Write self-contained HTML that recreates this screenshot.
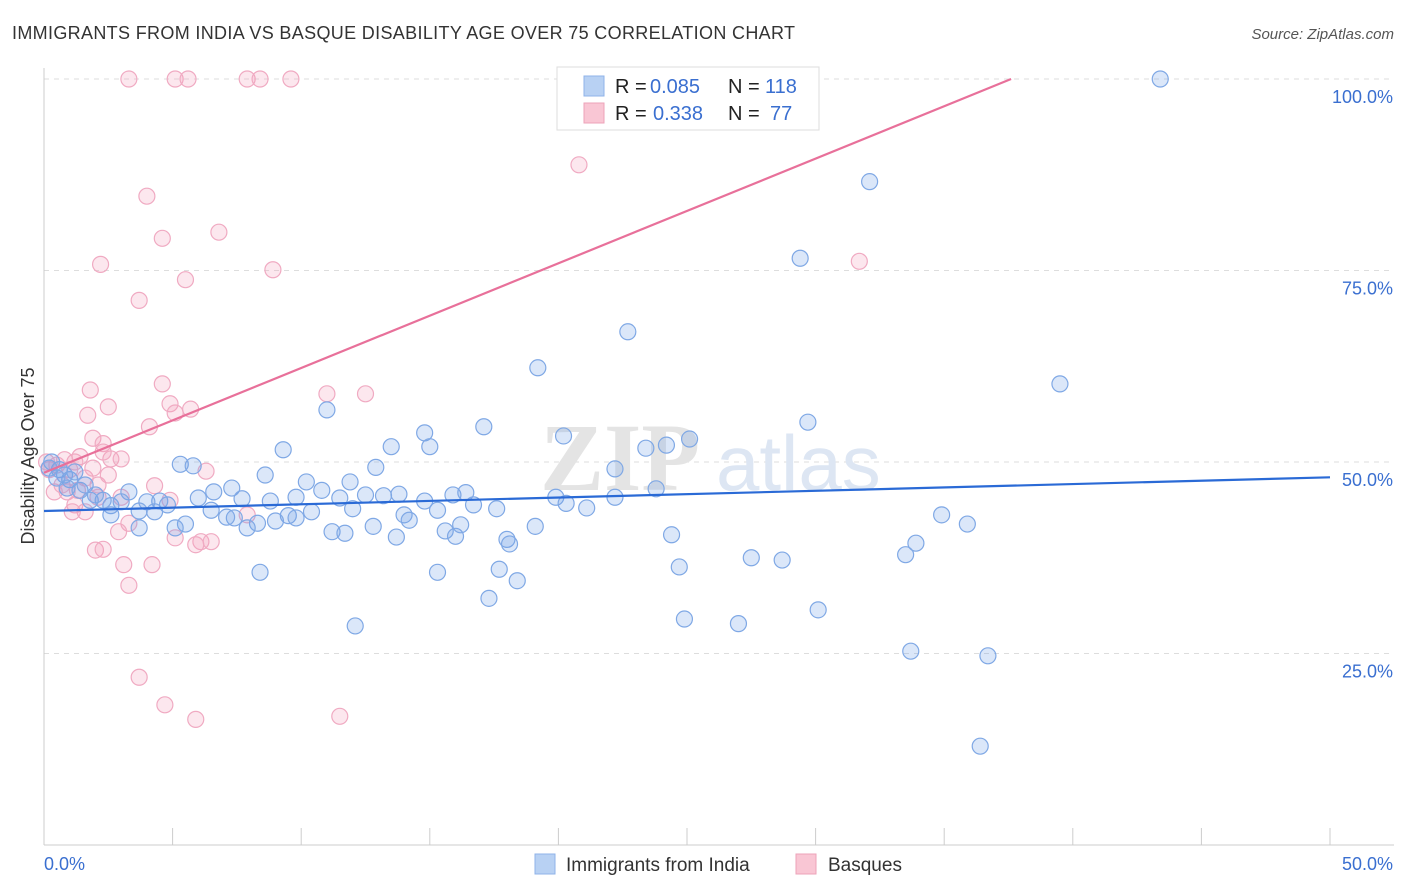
<!DOCTYPE html>
<html><head><meta charset="utf-8">
<style>
body{margin:0;background:#fff;font-family:"Liberation Sans",sans-serif;}
svg{display:block}
</style></head>
<body>
<svg id="chart" width="1406" height="892" xmlns="http://www.w3.org/2000/svg">
<text x="12" y="39" font-size="18" fill="#333" textLength="783">IMMIGRANTS FROM INDIA VS BASQUE DISABILITY AGE OVER 75 CORRELATION CHART</text>
<text x="1394" y="39" font-size="15" fill="#555" font-style="italic" text-anchor="end">Source: ZipAtlas.com</text>
<g id="grid"></g>
<text x="700" y="490" font-size="96" fill="#e4e4e4" font-family="Liberation Serif,serif" font-weight="bold" text-anchor="end">ZIP</text>
<text x="716" y="490" font-size="78" fill="#dde6f3">atlas</text>
<g id="axes"></g>
<g id="pts"></g>
<g id="lines"></g>
<text transform="translate(34,456) rotate(-90)" font-size="18" fill="#333" text-anchor="middle">Disability Age Over 75</text>
<g>
<rect x="557" y="67" width="262" height="63" fill="#fff" stroke="#ddd"/>
<rect x="584" y="76" width="20" height="20" fill="#b8d1f3" stroke="#8fb3e8"/>
<rect x="584" y="103" width="20" height="20" fill="#f9c6d4" stroke="#eda3b9"/>
<text x="615" y="93" font-size="20" fill="#222">R =</text>
<text x="650" y="93" font-size="20" fill="#3a6fd0">0.085</text>
<text x="728" y="93" font-size="20" fill="#222">N =</text>
<text x="765" y="93" font-size="20" fill="#3a6fd0">118</text>
<text x="615" y="120" font-size="20" fill="#222">R =</text>
<text x="653" y="120" font-size="20" fill="#3a6fd0">0.338</text>
<text x="728" y="120" font-size="20" fill="#222">N =</text>
<text x="770" y="120" font-size="20" fill="#3a6fd0">77</text>
</g>
<g>
<rect x="535" y="854" width="20" height="20" fill="#b8d1f3" stroke="#8fb3e8"/>
<text x="566" y="871" font-size="19" fill="#333">Immigrants from India</text>
<rect x="796" y="854" width="20" height="20" fill="#f9c6d4" stroke="#eda3b9"/>
<text x="828" y="871" font-size="19" fill="#333">Basques</text>
</g>
</svg>
<script>
const yTicks=[25,50,75,100];
const yTickLabels=["25.0%","50.0%","75.0%","100.0%"];
const xTickLabels=["0.0%","50.0%"];
const indiaX=[43.4,32.1,29.4,22.7,19.2,39.5,11.0,29.7,17.1,14.8,20.2,25.1,13.5,15.0,24.2,23.4,9.3,5.3,5.8,12.9,22.2,8.6,10.2,11.9,10.8,23.8,3.3,6.6,7.3,7.7,8.8,6.0,9.8,11.5,12.5,13.2,13.8,14.8,15.9,16.4,16.7,17.6,19.9,20.3,21.1,22.2,4.5,4.0,4.8,2.6,2.3,3.0,3.7,4.3,6.5,7.4,8.3,9.5,10.4,9.8,12.0,14.0,14.2,15.3,5.5,5.1,3.7,2.6,7.1,7.9,9.0,11.2,11.7,12.8,13.7,15.6,16.0,16.2,18.0,18.1,19.1,24.4,27.5,28.7,24.7,33.5,33.9,34.9,35.9,15.3,17.7,18.4,17.3,8.4,24.9,27.0,30.1,12.1,33.7,36.7,36.4,0.6,0.3,1.0,1.4,1.8,0.8,0.5,1.2,1.6,2.0,0.2,0.9];
const indiaY=[100,86.6,76.6,67.0,62.3,60.2,56.8,55.2,54.6,53.8,53.4,53.0,52.0,52.0,52.2,51.8,51.6,49.7,49.5,49.3,49.1,48.3,47.4,47.4,46.3,46.5,46.1,46.1,46.6,45.2,44.9,45.3,45.4,45.3,45.7,45.6,45.8,44.9,45.7,46.0,44.4,43.9,45.4,44.6,44.0,45.4,44.9,44.8,44.4,44.3,45.0,44.8,43.6,43.5,43.7,42.7,42.0,43.0,43.5,42.7,43.9,43.1,42.4,43.7,41.9,41.4,41.4,43.1,42.8,41.4,42.3,40.9,40.7,41.6,40.2,41.0,40.3,41.8,39.9,39.3,41.6,40.5,37.5,37.2,36.3,37.9,39.4,43.1,41.9,35.6,36.0,34.5,32.2,35.6,29.5,28.9,30.7,28.6,25.3,24.7,12.9,49.0,50.0,47.7,46.3,45.0,48.3,47.9,48.7,47.0,45.7,49.2,46.6];
const basqueX=[3.3,5.1,5.6,7.9,8.4,9.6,20.8,4.0,4.6,6.8,2.2,8.9,5.5,3.7,31.7,11.0,12.5,4.6,1.8,2.5,4.9,5.7,5.1,1.7,4.1,1.9,2.3,2.6,2.3,3.0,6.3,1.4,1.2,1.0,0.5,0.2,0.1,4.3,2.1,2.1,3.0,2.5,1.3,0.9,1.2,1.6,1.1,3.3,2.9,5.1,6.1,5.9,6.5,7.9,2.0,2.3,3.1,4.2,3.3,3.7,4.7,5.9,11.5,0.4,0.7,1.6,0.8,1.9,4.9];
const basqueY=[100,100,100,100,100,100,88.8,84.7,79.2,80.0,75.8,75.1,73.8,71.1,76.2,58.9,58.9,60.2,59.4,57.2,57.6,56.9,56.4,56.1,54.6,53.1,52.4,50.4,51.3,50.4,48.8,50.7,50.0,49.0,49.6,49.0,50.0,46.9,47.0,45.4,45.4,48.3,46.3,46.1,44.4,43.5,43.5,42.0,40.9,40.1,39.6,39.2,39.6,43.1,38.5,38.6,36.6,36.6,33.9,21.9,18.3,16.4,16.8,46.1,47.0,47.9,50.3,49.2,45.0];
const indiaTrend=[43.6,48.0];
const basqueTrend=[48.6,1.367];
const NS="http://www.w3.org/2000/svg";
const X0=44,X1=1330,Y0=845,Y100=79;
function sx(v){return X0+(X1-X0)*v/50;}
function sy(v){return Y0-(Y0-Y100)*v/100;}
function mk(tag,attrs,parent){const e=document.createElementNS(NS,tag);for(const k in attrs)e.setAttribute(k,attrs[k]);parent.appendChild(e);return e;}
const grid=document.getElementById('grid'),axes=document.getElementById('axes'),pts=document.getElementById('pts'),lines=document.getElementById('lines');
yTicks.forEach((t,i)=>{
  const l=mk('line',{x1:X0,x2:1394,y1:sy(t),y2:sy(t),stroke:'#ddd','stroke-dasharray':'5,5'},grid);
  
  
  const tx=mk('text',{x:1393,y:sy(t)+24,'font-size':18,fill:'#3a6fd0','text-anchor':'end'},axes);
  tx.textContent=yTickLabels[i];
  
  
});
const ax=mk('line',{x1:X0,x2:1394,y1:Y0,y2:Y0,stroke:'#ccc'},axes);


const ay=mk('line',{x1:X0,x2:X0,y1:68,y2:Y0,stroke:'#ccc'},axes);


for(let i=0;i<=10;i++){
  const t=mk('line',{x1:sx(i*5),x2:sx(i*5),y1:828,y2:Y0,stroke:'#ccc'},axes);
  
  
}
const xl0=mk('text',{x:44,y:870,'font-size':18,fill:'#3a6fd0'},axes);xl0.textContent=xTickLabels[0];


const xl1=mk('text',{x:1393,y:870,'font-size':18,fill:'#3a6fd0','text-anchor':'end'},axes);xl1.textContent=xTickLabels[1];


basqueX.forEach((v,i)=>{
  const c=mk('circle',{cx:sx(v),cy:sy(basqueY[i]),r:8,fill:'rgba(244,160,188,0.25)',stroke:'#f0aac2','stroke-width':1.2},pts);
  
  
});
indiaX.forEach((v,i)=>{
  const c=mk('circle',{cx:sx(v),cy:sy(indiaY[i]),r:8,fill:'rgba(110,160,230,0.25)',stroke:'#7fa8e5','stroke-width':1.2},pts);
  
  
});
const bl=mk('line',{x1:sx(0),y1:sy(indiaTrend[0]),x2:sx(50),y2:sy(indiaTrend[1]),stroke:'#2a6ad6','stroke-width':2.2},lines);


const xEnd=Math.min(50,(100-basqueTrend[0])/basqueTrend[1]);
const pl=mk('line',{x1:sx(0),y1:sy(basqueTrend[0]),x2:sx(xEnd),y2:sy(basqueTrend[0]+basqueTrend[1]*xEnd),stroke:'#e8709a','stroke-width':2.2},lines);


</script>
</body></html>
